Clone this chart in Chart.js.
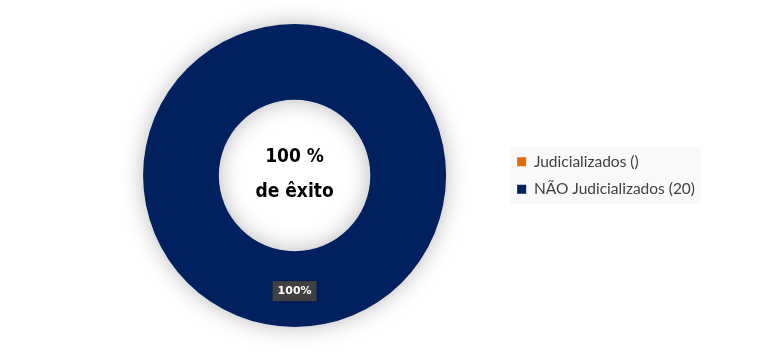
<!DOCTYPE html>
<html>
<head>
<meta charset="utf-8">
<script src="https://cdn.jsdelivr.net/npm/chart.js@4"></script>
<style>
  html, body { margin: 0; padding: 0; background: #fff; }
  #wrap { width: 780px; height: 362px; }
</style>
</head>
<body>
<div id="wrap"><canvas id="pieChart" width="780" height="362"></canvas></div>
<script>
const categories = ['Judicializados', 'NÃO Judicializados'];
const countLabels = ['', '20'];
const values = [0, 20];
const colors = ['#E36C0A', '#002060'];
const centerLines = ['100 %', 'de êxito'];

// sombra suave em volta do anel
const shadowPlugin = {
    id: 'ringShadow',
    beforeDatasetsDraw(chart) {
        const ctx = chart.ctx;
        ctx.save();
        ctx.shadowColor = 'rgba(0,0,0,0.28)';
        ctx.shadowBlur = 22;
    },
    afterDatasetsDraw(chart) {
        chart.ctx.restore();
    }
};

// fundo cinza claro só em volta dos itens da legenda
const legendBg = {
    id: 'legendBg',
    beforeDraw(chart) {
        const boxes = chart.legend && chart.legend.legendHitBoxes;
        if (!boxes || !boxes.length) return;
        const x0 = Math.min(...boxes.map(b => b.left)) - 7;
        const x1 = Math.max(...boxes.map(b => b.left + b.width)) + 6;
        const y0 = Math.min(...boxes.map(b => b.top)) - 7;
        const y1 = Math.max(...boxes.map(b => b.top + b.height)) + 7;
        const ctx = chart.ctx;
        ctx.save();
        ctx.fillStyle = '#f9f9f9';
        ctx.fillRect(x0, y0, x1 - x0, y1 - y0);
        ctx.restore();
    }
};

// texto central + rótulo de percentagem
const labelsPlugin = {
    id: 'ringLabels',
    afterDraw(chart) {
        const ctx = chart.ctx;
        const meta = chart.getDatasetMeta(0);
        const total = values.reduce((a, b) => a + b, 0);
        const cx = meta.data[0].x, cy = meta.data[0].y;

        ctx.save();
        ctx.fillStyle = '#000';
        ctx.font = 'bold 19px "DejaVu Sans Condensed", "DejaVu Sans", sans-serif';
        ctx.textAlign = 'center';
        ctx.textBaseline = 'middle';
        ctx.fillText(centerLines[0], cx, cy - 18);
        ctx.fillText(centerLines[1], cx, cy + 17);

        meta.data.forEach((arc, i) => {
            if (!values[i]) return;
            const pct = Math.round(values[i] / total * 100) + '%';
            const pos = arc.tooltipPosition();
            ctx.font = 'bold 11px "DejaVu Sans", sans-serif';
            const w = ctx.measureText(pct).width + 10;
            const h = 20;
            ctx.shadowColor = 'rgba(0,0,0,0.4)';
            ctx.shadowBlur = 3;
            ctx.fillStyle = '#404040';
            ctx.fillRect(pos.x - w / 2, pos.y + 2 - h / 2, w, h);
            ctx.shadowBlur = 0;
            ctx.fillStyle = '#fff';
            ctx.fillText(pct, pos.x, pos.y + 2);
        });
        ctx.restore();
    }
};

const ctx = document.getElementById('pieChart').getContext('2d');
new Chart(ctx, {
    type: 'doughnut',
    data: {
        labels: categories.map((c, i) => c + ' (' + countLabels[i] + ')'),
        datasets: [{
            data: values,
            backgroundColor: colors,
            borderWidth: 0
        }]
    },
    options: {
        responsive: false,
        animation: false,
        cutout: '50%',
        layout: {
            padding: { left: 84, right: 75, top: 24, bottom: 35 }
        },
        plugins: {
            tooltip: { enabled: false },
            legend: {
                position: 'right',
                labels: {
                    font: { family: 'Lato', size: 15.5 },
                    color: '#404040',
                    boxWidth: 9,
                    boxHeight: 9,
                    padding: 12
                }
            }
        }
    },
    plugins: [shadowPlugin, legendBg, labelsPlugin]
});
</script>
</body>
</html>
